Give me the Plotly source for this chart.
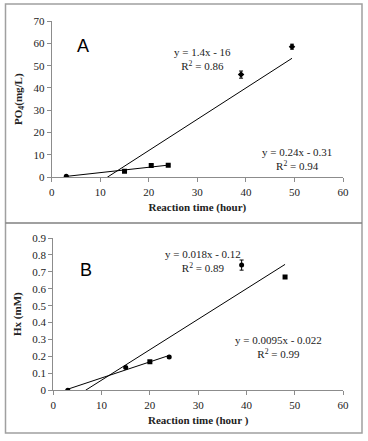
import plotly.graph_objects as go

W, H = 368, 441

# Panel A data
a_x1 = [3, 15, 20.5, 24]
a_y1 = [0.5, 2.7, 5.3, 5.4]
a_err1 = [0.3, 0.4, 0.4, 0.4]
a_sym1 = ["circle", "square", "square", "square"]
a_x2 = [39, 49.5]
a_y2 = [46, 58.5]
a_err2 = [1.6, 1.1]
a_fit1 = (0.24, -0.31)      # slope, intercept, over x 3..24
a_fit2 = (1.4, -16)         # over all points, clipped at 0
# Panel B data
b_x1 = [3, 15, 20, 24]
b_y1 = [0.0, 0.135, 0.168, 0.197]
b_err1 = [0.004, 0.006, 0.006, 0.005]
b_sym1 = ["circle", "circle", "square", "circle"]
b_x2 = [39, 48]
b_y2 = [0.74, 0.67]
b_err2 = [0.03, 0.008]
b_sym2 = ["circle", "square"]
b_fit1 = (0.0095, -0.022)
b_fit2 = (0.018, -0.12)

xticks = [0, 10, 20, 30, 40, 50, 60]

def px(x):
    return x / W

def py(y):
    return 1 - y / H

fig = go.Figure()
FONT = "Liberation Serif"

def add_points(x, y, err, sym, xa, ya):
    fig.add_trace(go.Scatter(
        x=x, y=y, mode="markers", xaxis=xa, yaxis=ya,
        marker=dict(symbol=sym, size=5, color="black"),
        error_y=dict(type="data", array=err, color="black", thickness=1, width=2),
        showlegend=False))

def add_fit(fit, x0, x1, xa, ya):
    m, b = fit
    if m * x0 + b < 0:
        x0 = -b / m
    fig.add_trace(go.Scatter(
        x=[x0, x1], y=[m * x0 + b, m * x1 + b], mode="lines", xaxis=xa, yaxis=ya,
        line=dict(color="black", width=1), showlegend=False))

# Panel A
add_fit(a_fit1, a_x1[0], a_x1[-1], "x", "y")
add_fit(a_fit2, a_x1[0], a_x2[-1], "x", "y")
add_points(a_x1, a_y1, a_err1, a_sym1, "x", "y")
add_points(a_x2, a_y2, a_err2, "diamond", "x", "y")
# Panel B
add_fit(b_fit1, b_x1[0], b_x1[-1], "x2", "y2")
add_fit(b_fit2, b_x1[0], b_x2[-1], "x2", "y2")
add_points(b_x1, b_y1, b_err1, b_sym1, "x2", "y2")
add_points(b_x2, b_y2, b_err2, b_sym2, "x2", "y2")

axis_common = dict(showgrid=False, zeroline=False, showline=True, linecolor="#8c8c8c",
                   linewidth=1, ticks="outside", ticklen=4, tickcolor="#8c8c8c",
                   automargin=False,
                   tickfont=dict(family=FONT, size=11, color="#222"))

fig.update_layout(
    width=W, height=H, margin=dict(l=0, r=0, t=0, b=0),
    paper_bgcolor="white", plot_bgcolor="white",
    xaxis=dict(domain=[px(51.7), px(343)], anchor="y", range=[0, 60], tickvals=xticks,
               title=dict(text="<b>Reaction time (hour)</b>", standoff=6,
                          font=dict(family=FONT, size=11, color="#222")), **axis_common),
    yaxis=dict(domain=[py(177.3), py(21)], anchor="x", range=[0, 70], dtick=10,
               title=dict(text="<b>PO<sub>4</sub>(mg/L)</b>", standoff=8,
                          font=dict(family=FONT, size=11, color="#222")), **axis_common),
    xaxis2=dict(domain=[px(53.3), px(343)], anchor="y2", range=[0, 60], tickvals=xticks,
                title=dict(text="<b>Reaction time (hour )</b>", standoff=6,
                           font=dict(family=FONT, size=11, color="#222")), **axis_common),
    yaxis2=dict(domain=[py(390.3), py(238)], anchor="x2", range=[0, 0.9], dtick=0.1,
                tickformat="~g",
                title=dict(text="<b>Hx (mM)</b>", standoff=8,
                           font=dict(family=FONT, size=11, color="#222")), **axis_common),
)

# borders
fig.add_shape(type="rect", xref="paper", yref="paper", x0=px(5.5), x1=px(362),
              y0=py(433), y1=py(4), line=dict(color="#a0a0a0", width=1.5))
fig.add_shape(type="line", xref="paper", yref="paper", x0=px(5.5), x1=px(362),
              y0=py(223), y1=py(223), line=dict(color="#808080", width=1.5))

ann_font = dict(family=FONT, size=11, color="#222")
fig.add_annotation(x=6.4, y=59, xref="x", yref="y", text="A", showarrow=False,
                   font=dict(family="Liberation Sans", size=18, color="black"))
fig.add_annotation(x=31, y=53.2, xref="x", yref="y", text="y = 1.4x - 16<br>R<sup>2</sup> = 0.86",
                   showarrow=False, font=ann_font, align="center")
fig.add_annotation(x=50.5, y=8.3, xref="x", yref="y", text="y = 0.24x - 0.31<br>R<sup>2</sup> = 0.94",
                   showarrow=False, font=ann_font, align="center")
fig.add_annotation(x=6.7, y=0.71, xref="x2", yref="y2", text="B", showarrow=False,
                   font=dict(family="Liberation Sans", size=18, color="black"))
fig.add_annotation(x=31.1, y=0.766, xref="x2", yref="y2", text="y = 0.018x - 0.12<br>R<sup>2</sup> = 0.89",
                   showarrow=False, font=ann_font, align="center")
fig.add_annotation(x=46.7, y=0.256, xref="x2", yref="y2", text="y = 0.0095x - 0.022<br>R<sup>2</sup> = 0.99",
                   showarrow=False, font=ann_font, align="center")

fig.write_html("out.html", config={"displayModeBar": False},
               post_script="document.body.style.margin='0';")
